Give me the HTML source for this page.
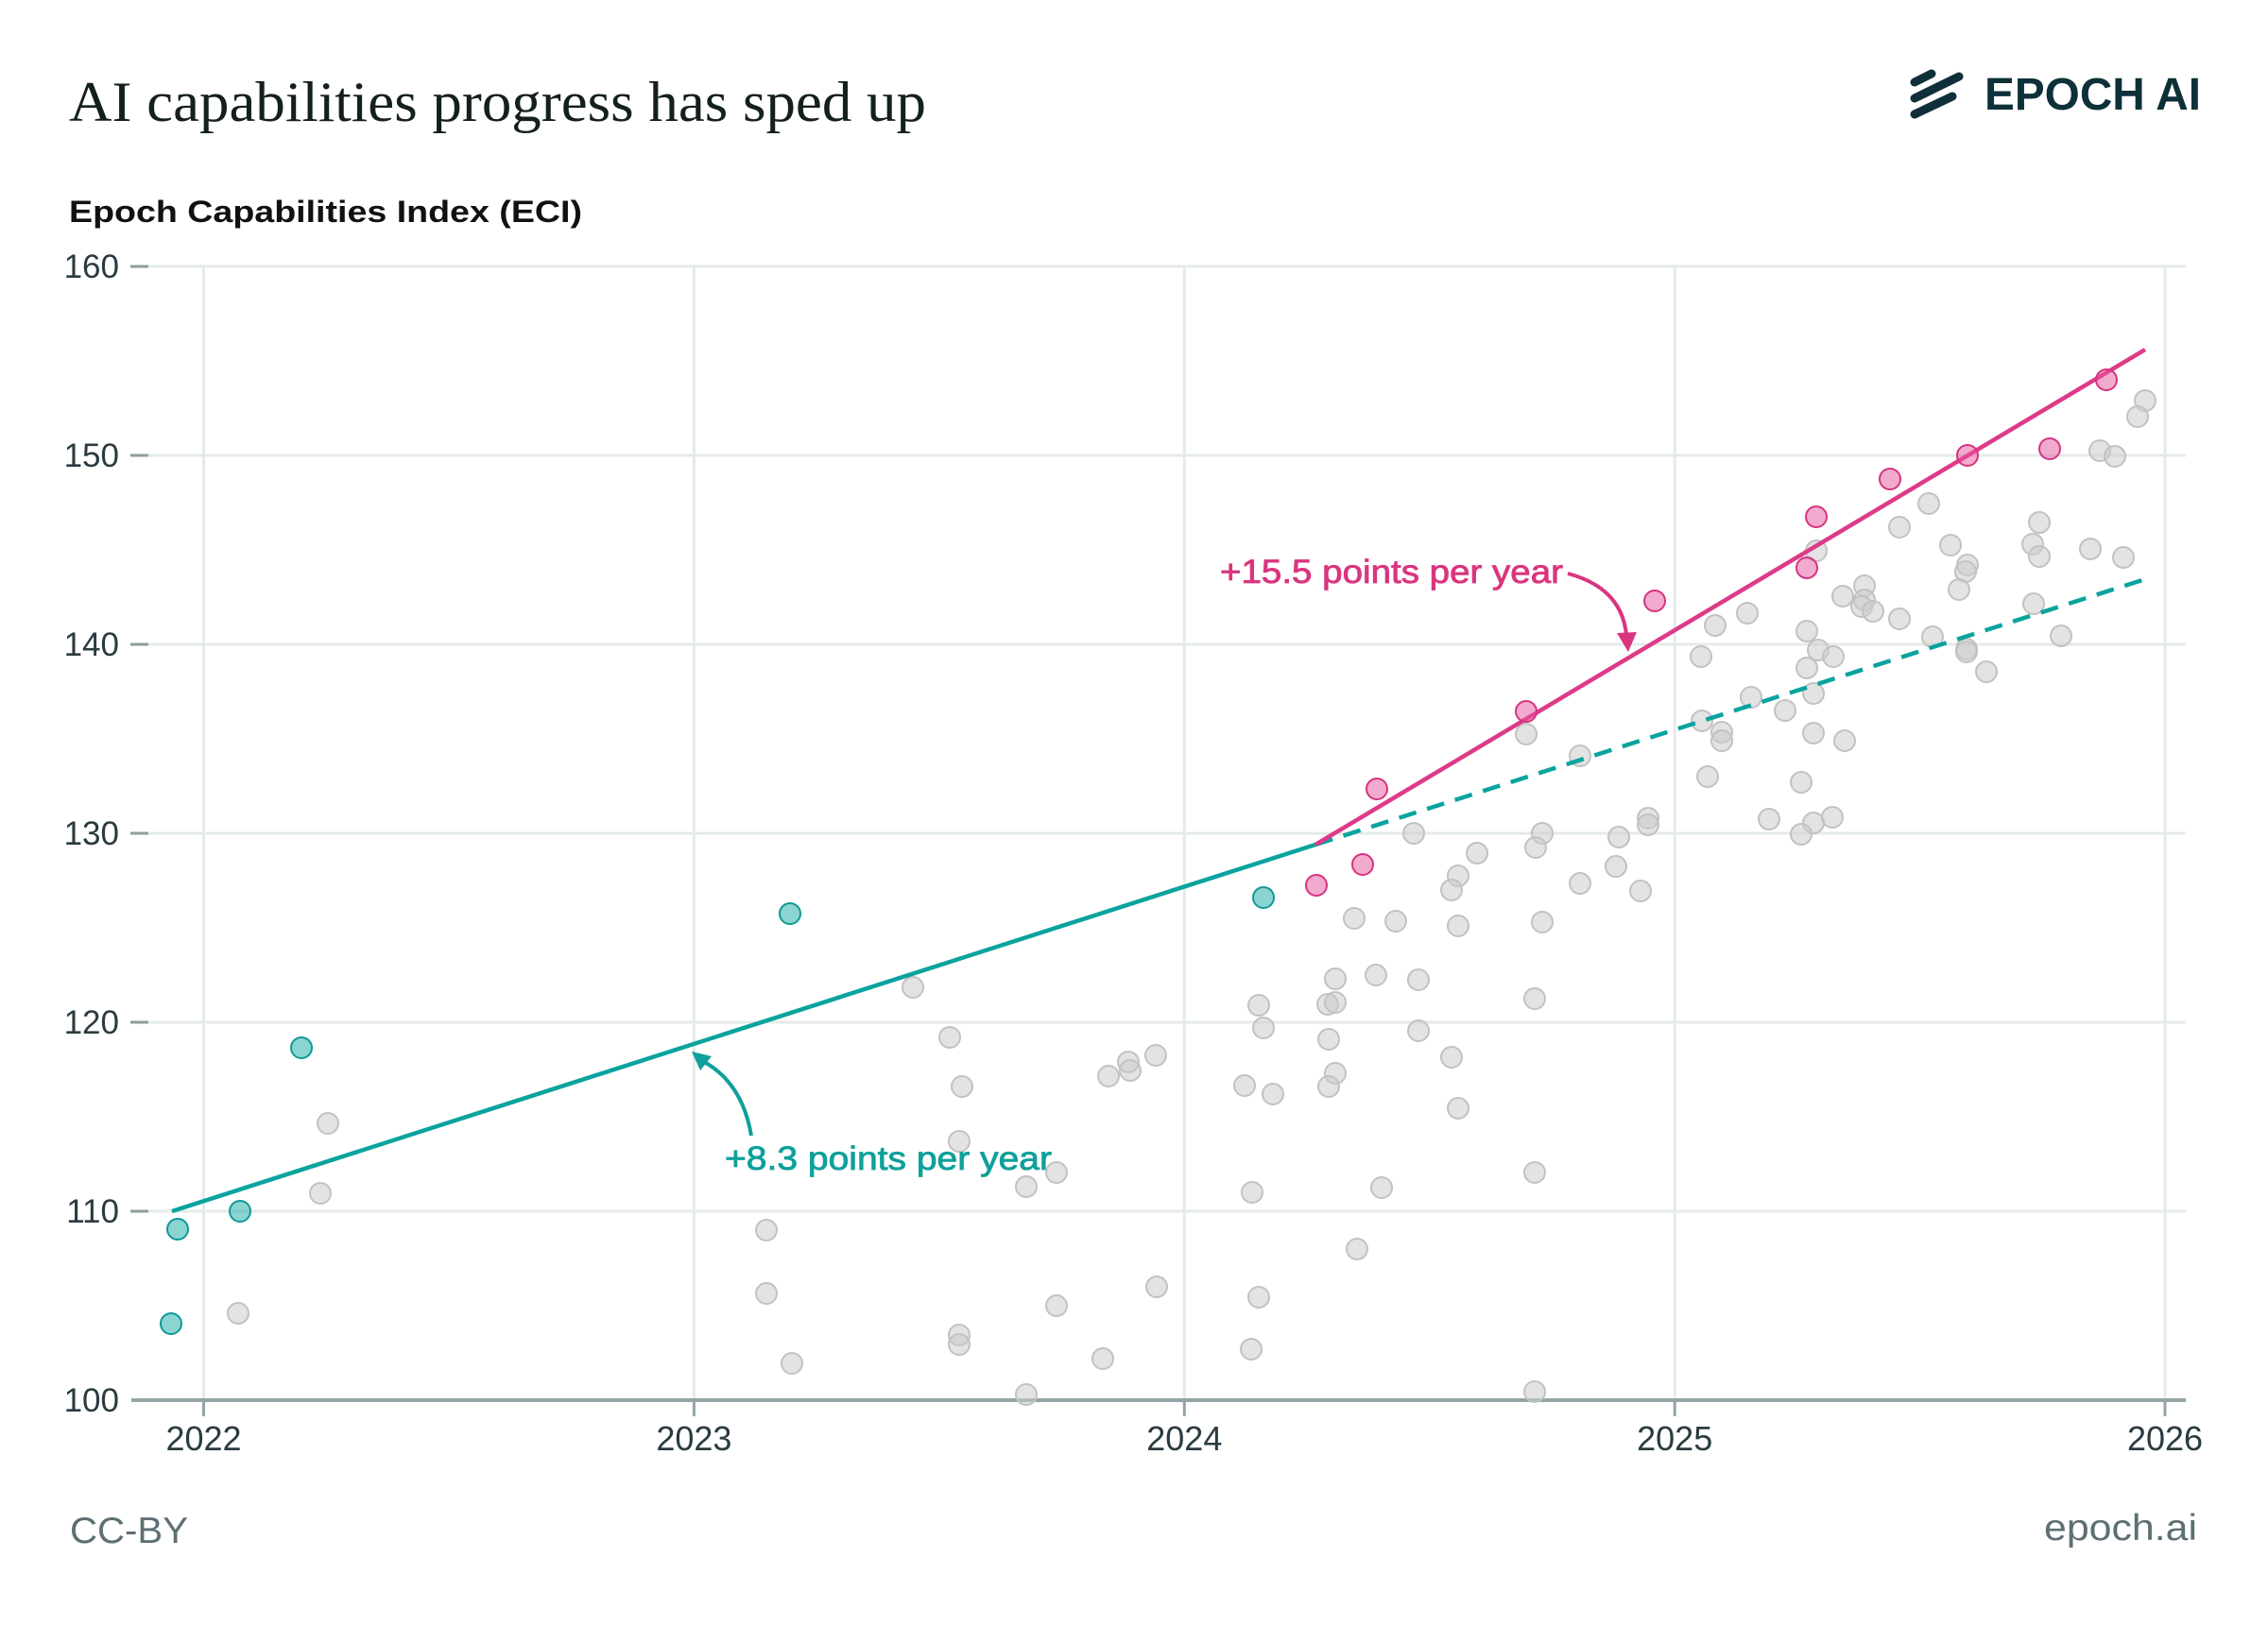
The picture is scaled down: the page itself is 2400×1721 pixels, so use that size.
<!DOCTYPE html>
<html>
<head>
<meta charset="utf-8">
<style>
  html,body{margin:0;padding:0;background:#fff;}
  body{width:2400px;height:1721px;overflow:hidden;}
  svg{display:block;}
  .sans{font-family:"Liberation Sans",sans-serif;}
  .serif{font-family:"Liberation Serif",serif;}
</style>
</head>
<body>
<svg width="2400" height="1721" viewBox="0 0 2400 1721" xmlns="http://www.w3.org/2000/svg">
  <rect x="0" y="0" width="2400" height="1721" fill="#ffffff"/>

  <text class="serif" x="73" y="128" font-size="60" fill="#13201f" textLength="907" lengthAdjust="spacingAndGlyphs">AI capabilities progress has sped up</text>

  <g stroke="#0e3038" stroke-width="9" stroke-linecap="round" fill="none">
    <line x1="2026" y1="87" x2="2044" y2="78"/>
    <line x1="2026" y1="104" x2="2073" y2="81"/>
    <line x1="2026" y1="121" x2="2066" y2="102"/>
  </g>
  <text class="sans" x="2100" y="116" font-size="48" font-weight="bold" fill="#0e3038" textLength="229" lengthAdjust="spacingAndGlyphs">EPOCH AI</text>

  <text class="sans" x="73" y="235" font-size="32" font-weight="bold" fill="#111111" textLength="543" lengthAdjust="spacingAndGlyphs">Epoch Capabilities Index (ECI)</text>

  <g stroke="#e4ebea" stroke-width="3">
    <line x1="157" y1="282" x2="2313" y2="282"/>
    <line x1="157" y1="482" x2="2313" y2="482"/>
    <line x1="157" y1="682" x2="2313" y2="682"/>
    <line x1="157" y1="882" x2="2313" y2="882"/>
    <line x1="157" y1="1082" x2="2313" y2="1082"/>
    <line x1="157" y1="1282" x2="2313" y2="1282"/>
    <line x1="215.5" y1="282" x2="215.5" y2="1482"/>
    <line x1="734.4" y1="282" x2="734.4" y2="1482"/>
    <line x1="1253.3" y1="282" x2="1253.3" y2="1482"/>
    <line x1="1772.2" y1="282" x2="1772.2" y2="1482"/>
    <line x1="2291" y1="282" x2="2291" y2="1482"/>
  </g>
  <g stroke="#8e9c9c" stroke-width="3">
    <line x1="138" y1="282" x2="157" y2="282"/>
    <line x1="138" y1="482" x2="157" y2="482"/>
    <line x1="138" y1="682" x2="157" y2="682"/>
    <line x1="138" y1="882" x2="157" y2="882"/>
    <line x1="138" y1="1082" x2="157" y2="1082"/>
    <line x1="138" y1="1282" x2="157" y2="1282"/>
  </g>
  <g class="sans" font-size="35" fill="#2a3b40" text-anchor="end">
    <text x="126" y="294">160</text>
    <text x="126" y="494">150</text>
    <text x="126" y="694">140</text>
    <text x="126" y="894">130</text>
    <text x="126" y="1094">120</text>
    <text x="126" y="1294">110</text>
    <text x="126" y="1494">100</text>
  </g>

  <line x1="139" y1="1482" x2="2313" y2="1482" stroke="#94a4a7" stroke-width="4"/>
  <g stroke="#94a4a7" stroke-width="3">
    <line x1="215.5" y1="1482" x2="215.5" y2="1499"/>
    <line x1="734.4" y1="1482" x2="734.4" y2="1499"/>
    <line x1="1253.3" y1="1482" x2="1253.3" y2="1499"/>
    <line x1="1772.2" y1="1482" x2="1772.2" y2="1499"/>
    <line x1="2291" y1="1482" x2="2291" y2="1499"/>
  </g>
  <g class="sans" font-size="36" fill="#2a3b40" text-anchor="middle">
    <text x="215.5" y="1535">2022</text>
    <text x="734.4" y="1535">2023</text>
    <text x="1253.3" y="1535">2024</text>
    <text x="1772.2" y="1535">2025</text>
    <text x="2291" y="1535">2026</text>
  </g>

  <g fill="#cccccc" fill-opacity="0.55" stroke="#c2c2c2" stroke-width="2">
    <circle cx="347" cy="1189" r="11"/>
    <circle cx="339" cy="1263" r="11"/>
    <circle cx="252" cy="1390" r="11"/>
    <circle cx="966" cy="1045" r="11"/>
    <circle cx="1005" cy="1098" r="11"/>
    <circle cx="1018" cy="1150" r="11"/>
    <circle cx="1015" cy="1208" r="11"/>
    <circle cx="1173" cy="1139" r="11"/>
    <circle cx="1194" cy="1124" r="11"/>
    <circle cx="1196" cy="1133" r="11"/>
    <circle cx="1223" cy="1117" r="11"/>
    <circle cx="1118" cy="1241" r="11"/>
    <circle cx="1086" cy="1256" r="11"/>
    <circle cx="811" cy="1302" r="11"/>
    <circle cx="811" cy="1369" r="11"/>
    <circle cx="838" cy="1443" r="11"/>
    <circle cx="1015" cy="1413" r="11"/>
    <circle cx="1015" cy="1423" r="11"/>
    <circle cx="1118" cy="1382" r="11"/>
    <circle cx="1224" cy="1362" r="11"/>
    <circle cx="1167" cy="1438" r="11"/>
    <circle cx="1086" cy="1476" r="11"/>
    <circle cx="1496" cy="882" r="11"/>
    <circle cx="1563" cy="903" r="11"/>
    <circle cx="1543" cy="927" r="11"/>
    <circle cx="1536" cy="942" r="11"/>
    <circle cx="1632" cy="882" r="11"/>
    <circle cx="1625" cy="897" r="11"/>
    <circle cx="1713" cy="886" r="11"/>
    <circle cx="1744" cy="866" r="11"/>
    <circle cx="1744" cy="873" r="11"/>
    <circle cx="1710" cy="917" r="11"/>
    <circle cx="1672" cy="935" r="11"/>
    <circle cx="1736" cy="943" r="11"/>
    <circle cx="1433" cy="972" r="11"/>
    <circle cx="1477" cy="975" r="11"/>
    <circle cx="1543" cy="980" r="11"/>
    <circle cx="1632" cy="976" r="11"/>
    <circle cx="1413" cy="1036" r="11"/>
    <circle cx="1456" cy="1032" r="11"/>
    <circle cx="1501" cy="1037" r="11"/>
    <circle cx="1624" cy="1057" r="11"/>
    <circle cx="1332" cy="1064" r="11"/>
    <circle cx="1405" cy="1063" r="11"/>
    <circle cx="1413" cy="1061" r="11"/>
    <circle cx="1337" cy="1088" r="11"/>
    <circle cx="1406" cy="1100" r="11"/>
    <circle cx="1501" cy="1091" r="11"/>
    <circle cx="1536" cy="1119" r="11"/>
    <circle cx="1413" cy="1136" r="11"/>
    <circle cx="1406" cy="1150" r="11"/>
    <circle cx="1317" cy="1149" r="11"/>
    <circle cx="1347" cy="1158" r="11"/>
    <circle cx="1543" cy="1173" r="11"/>
    <circle cx="1624" cy="1241" r="11"/>
    <circle cx="1325" cy="1262" r="11"/>
    <circle cx="1462" cy="1257" r="11"/>
    <circle cx="1436" cy="1322" r="11"/>
    <circle cx="1332" cy="1373" r="11"/>
    <circle cx="1324" cy="1428" r="11"/>
    <circle cx="1624" cy="1473" r="11"/>
    <circle cx="1615" cy="777" r="11"/>
    <circle cx="1672" cy="800" r="11"/>
    <circle cx="2270" cy="424" r="11"/>
    <circle cx="2262" cy="441" r="11"/>
    <circle cx="2222" cy="477" r="11"/>
    <circle cx="2238" cy="483" r="11"/>
    <circle cx="2041" cy="533" r="11"/>
    <circle cx="2010" cy="558" r="11"/>
    <circle cx="2158" cy="553" r="11"/>
    <circle cx="2064" cy="577" r="11"/>
    <circle cx="2151" cy="576" r="11"/>
    <circle cx="2158" cy="589" r="11"/>
    <circle cx="2212" cy="581" r="11"/>
    <circle cx="2247" cy="590" r="11"/>
    <circle cx="1922" cy="583" r="11"/>
    <circle cx="2082" cy="598" r="11"/>
    <circle cx="2080" cy="605" r="11"/>
    <circle cx="2073" cy="624" r="11"/>
    <circle cx="1973" cy="620" r="11"/>
    <circle cx="1973" cy="635" r="11"/>
    <circle cx="1970" cy="642" r="11"/>
    <circle cx="1982" cy="647" r="11"/>
    <circle cx="1950" cy="631" r="11"/>
    <circle cx="2010" cy="655" r="11"/>
    <circle cx="2152" cy="639" r="11"/>
    <circle cx="2181" cy="673" r="11"/>
    <circle cx="1849" cy="649" r="11"/>
    <circle cx="1815" cy="662" r="11"/>
    <circle cx="1912" cy="668" r="11"/>
    <circle cx="2045" cy="674" r="11"/>
    <circle cx="1924" cy="688" r="11"/>
    <circle cx="1940" cy="695" r="11"/>
    <circle cx="2081" cy="687" r="11"/>
    <circle cx="2081" cy="690" r="11"/>
    <circle cx="1800" cy="695" r="11"/>
    <circle cx="1912" cy="707" r="11"/>
    <circle cx="2102" cy="711" r="11"/>
    <circle cx="1853" cy="738" r="11"/>
    <circle cx="1919" cy="734" r="11"/>
    <circle cx="1889" cy="752" r="11"/>
    <circle cx="1801" cy="763" r="11"/>
    <circle cx="1822" cy="775" r="11"/>
    <circle cx="1822" cy="784" r="11"/>
    <circle cx="1919" cy="776" r="11"/>
    <circle cx="1952" cy="784" r="11"/>
    <circle cx="1807" cy="822" r="11"/>
    <circle cx="1906" cy="828" r="11"/>
    <circle cx="1872" cy="867" r="11"/>
    <circle cx="1919" cy="871" r="11"/>
    <circle cx="1939" cy="865" r="11"/>
    <circle cx="1906" cy="883" r="11"/>
  </g>

  <line x1="182" y1="1282" x2="1392" y2="894" stroke="#0aa39e" stroke-width="4.5"/>
  <line x1="1392" y1="894" x2="2267" y2="614" stroke="#0aa39e" stroke-width="4.5" stroke-dasharray="19 12"/>
  <line x1="1392" y1="894" x2="2270" y2="370" stroke="#de3a8a" stroke-width="4.5"/>

  <g fill="#16aaa5" fill-opacity="0.5" stroke="#0e9a95" stroke-width="2">
    <circle cx="181" cy="1401" r="11"/>
    <circle cx="188" cy="1301" r="11"/>
    <circle cx="254" cy="1282" r="11"/>
    <circle cx="319" cy="1109" r="11"/>
    <circle cx="836" cy="967" r="11"/>
    <circle cx="1337" cy="950" r="11"/>
  </g>

  <g fill="#e8559f" fill-opacity="0.5" stroke="#d6337f" stroke-width="2">
    <circle cx="1393" cy="937" r="11"/>
    <circle cx="1442" cy="915" r="11"/>
    <circle cx="1457" cy="835" r="11"/>
    <circle cx="1615" cy="753" r="11"/>
    <circle cx="1751" cy="636" r="11"/>
    <circle cx="1912" cy="601" r="11"/>
    <circle cx="1922" cy="547" r="11"/>
    <circle cx="2000" cy="507" r="11"/>
    <circle cx="2082" cy="482" r="11"/>
    <circle cx="2169" cy="475" r="11"/>
    <circle cx="2229" cy="402" r="11"/>
  </g>

  <text class="sans" x="1291" y="617" font-size="35" fill="#d9357f" stroke="#d9357f" stroke-width="0.8" textLength="363" lengthAdjust="spacingAndGlyphs">+15.5 points per year</text>
  <path d="M1659 607 Q1716 622 1721 672" fill="none" stroke="#d9357f" stroke-width="4"/>
  <polygon points="1723,690 1711,670 1732,669" fill="#d9357f"/>

  <text class="sans" x="767" y="1238" font-size="35" fill="#0fa09b" stroke="#0fa09b" stroke-width="0.8" textLength="346" lengthAdjust="spacingAndGlyphs">+8.3 points per year</text>
  <path d="M795 1202 Q786 1148 747 1125" fill="none" stroke="#0fa09b" stroke-width="4"/>
  <polygon points="732,1113 753,1118 741,1133" fill="#0fa09b"/>

  <text class="sans" x="74" y="1633" font-size="39" fill="#5d6f73" textLength="125" lengthAdjust="spacingAndGlyphs">CC-BY</text>
  <text class="sans" x="2163" y="1630" font-size="39" fill="#5d6f73" textLength="162" lengthAdjust="spacingAndGlyphs">epoch.ai</text>
</svg>
</body>
</html>
